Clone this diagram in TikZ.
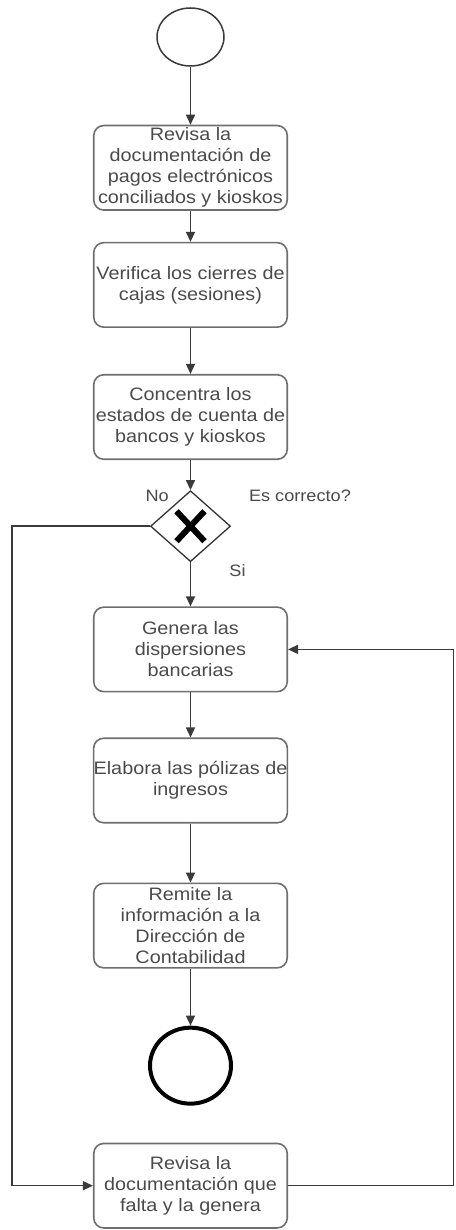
\documentclass[tikz,border=0pt]{standalone}
\usepackage{fontspec}
\setmainfont{Liberation Sans}[FakeStretch=1.1]
\usepackage{tikz}
\usetikzlibrary{positioning,arrows.meta,calc,shapes.geometric}
\definecolor{txtgray}{HTML}{4A4A4A}
\definecolor{boxgray}{HTML}{6E6E6E}
\definecolor{wiregray}{HTML}{3A3A3A}
\tikzset{
  act/.style={rectangle,draw=boxgray,line width=1.6pt,rounded corners=10pt,
    minimum width=193.5pt,minimum height=84.5pt,inner xsep=0pt,inner ysep=2pt,
    align=center,text=txtgray,font=\fontsize{18}{21}\selectfont},
  startev/.style={ellipse,draw=wiregray,line width=1.5pt,minimum width=67pt,
    minimum height=58pt,inner sep=0pt},
  endev/.style={ellipse,draw=black,line width=4pt,minimum width=81pt,
    minimum height=76pt,inner sep=0pt},
  gate/.style={diamond,draw=black!80,line width=1.3pt,minimum width=80pt,
    minimum height=71pt,inner sep=0pt},
  flow/.style={-{Triangle[length=10pt,width=9pt]},line width=1.5pt,draw=wiregray},
  xmark/.style={line width=6pt,draw=black},
  lbl/.style={inner sep=0pt,text=txtgray,font=\fontsize{16.5}{19}\selectfont},
}
\begin{document}
\begin{tikzpicture}[x=1pt,y=1pt]
  \useasboundingbox (0,0) rectangle (455,-1230);
  \node[startev] (start) at (190.5,-37) {};
  \node[act,below=58pt of start] (revdoc) {Revisa la\\documentación de\\pagos electrónicos\\conciliados y kioskos};
  \node[act,below=31pt of revdoc] (verif) {Verifica los cierres de\\cajas (sesiones)};
  \node[act,below=46pt of verif] (conc) {Concentra los\\estados de cuenta de\\bancos y kioskos};
  \node[gate,below=30pt of conc] (gw) {};
  \node[act,below=44pt of gw] (gen) {Genera las\\dispersiones\\bancarias};
  \node[act,below=45pt of gen] (elab) {Elabora las pólizas de\\ingresos};
  \node[act,below=59pt of elab] (remit) {Remite la\\información a la\\Dirección de\\Contabilidad};
  \node[endev,below=57pt of remit] (fin) {};
  \node[act,below=37pt of fin] (fix) {Revisa la\\documentación que\\falta y la genera};

  \draw[xmark] ($(gw.center)+(-14,15)$) -- ($(gw.center)+(14,-15)$);
  \draw[xmark] ($(gw.center)+(-14,-15)$) -- ($(gw.center)+(14,15)$);
  \node[lbl] (no) at ($(gw.north west)+(-13,12)$) {No};
  \node[lbl,anchor=west] (escor) at ($(gw.north east)+(38,12)$) {Es correcto?};
  \node[lbl] (si) at ($(gw.south)+(47,-8)$) {Si};

  \coordinate (nox) at (12,0);
  \coordinate (backx) at (453.5,0);

  \draw[flow] (start) -- (revdoc);
  \draw[flow] (revdoc) -- (verif);
  \draw[flow] (verif) -- (conc);
  \draw[flow] (conc) -- (gw);
  \draw[flow] (gw) -- (gen);
  \draw[flow] (gen) -- (elab);
  \draw[flow] (elab) -- (remit);
  \draw[flow] (remit) -- (fin);
  \draw[flow] (gw.west) -- (gw.west -| nox) -- (fix.west -| nox) -- (fix.west);
  \draw[flow] (fix.east) -- (fix.east -| backx) -- (gen.east -| backx) -- (gen.east);
\end{tikzpicture}
\end{document}
